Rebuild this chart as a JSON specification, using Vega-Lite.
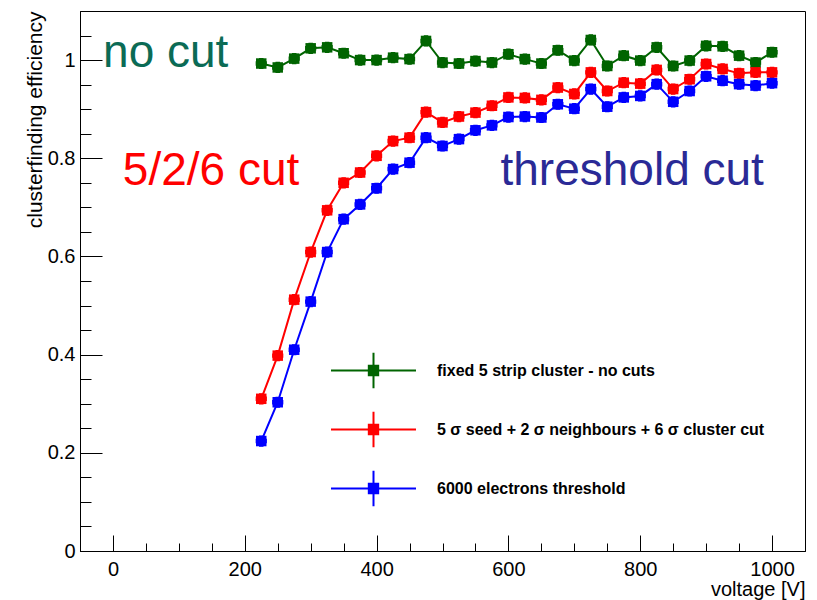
{
  "$schema": "https://vega.github.io/schema/vega-lite/v6.json",
  "width": 725,
  "height": 540,
  "autosize": "none",
  "padding": {"left": 80, "top": 11, "right": 12, "bottom": 49},
  "background": "white",
  "config": {
    "view": {"stroke": "black", "strokeWidth": 1},
    "font": "Liberation Sans",
    "axis": {"labelFont": "Liberation Sans", "titleFont": "Liberation Sans", "labelColor": "black", "titleColor": "black", "domainColor": "black", "tickColor": "black", "grid": false, "titleFontWeight": "normal"}
  },
  "datasets": {
    "eff": [
      {"voltage": 225, "series": "fixed 5 strip cluster - no cuts", "efficiency": 0.993},
      {"voltage": 250, "series": "fixed 5 strip cluster - no cuts", "efficiency": 0.985},
      {"voltage": 275, "series": "fixed 5 strip cluster - no cuts", "efficiency": 1.003},
      {"voltage": 300, "series": "fixed 5 strip cluster - no cuts", "efficiency": 1.024},
      {"voltage": 325, "series": "fixed 5 strip cluster - no cuts", "efficiency": 1.026},
      {"voltage": 350, "series": "fixed 5 strip cluster - no cuts", "efficiency": 1.014},
      {"voltage": 375, "series": "fixed 5 strip cluster - no cuts", "efficiency": 1.000},
      {"voltage": 400, "series": "fixed 5 strip cluster - no cuts", "efficiency": 1.000},
      {"voltage": 425, "series": "fixed 5 strip cluster - no cuts", "efficiency": 1.005},
      {"voltage": 450, "series": "fixed 5 strip cluster - no cuts", "efficiency": 1.002},
      {"voltage": 475, "series": "fixed 5 strip cluster - no cuts", "efficiency": 1.039},
      {"voltage": 500, "series": "fixed 5 strip cluster - no cuts", "efficiency": 0.995},
      {"voltage": 525, "series": "fixed 5 strip cluster - no cuts", "efficiency": 0.993},
      {"voltage": 550, "series": "fixed 5 strip cluster - no cuts", "efficiency": 0.998},
      {"voltage": 575, "series": "fixed 5 strip cluster - no cuts", "efficiency": 0.995},
      {"voltage": 600, "series": "fixed 5 strip cluster - no cuts", "efficiency": 1.012},
      {"voltage": 625, "series": "fixed 5 strip cluster - no cuts", "efficiency": 1.002},
      {"voltage": 650, "series": "fixed 5 strip cluster - no cuts", "efficiency": 0.993},
      {"voltage": 675, "series": "fixed 5 strip cluster - no cuts", "efficiency": 1.020},
      {"voltage": 700, "series": "fixed 5 strip cluster - no cuts", "efficiency": 0.999},
      {"voltage": 725, "series": "fixed 5 strip cluster - no cuts", "efficiency": 1.041},
      {"voltage": 750, "series": "fixed 5 strip cluster - no cuts", "efficiency": 0.988},
      {"voltage": 775, "series": "fixed 5 strip cluster - no cuts", "efficiency": 1.009},
      {"voltage": 800, "series": "fixed 5 strip cluster - no cuts", "efficiency": 0.999},
      {"voltage": 825, "series": "fixed 5 strip cluster - no cuts", "efficiency": 1.026},
      {"voltage": 850, "series": "fixed 5 strip cluster - no cuts", "efficiency": 0.988},
      {"voltage": 875, "series": "fixed 5 strip cluster - no cuts", "efficiency": 0.999},
      {"voltage": 900, "series": "fixed 5 strip cluster - no cuts", "efficiency": 1.029},
      {"voltage": 925, "series": "fixed 5 strip cluster - no cuts", "efficiency": 1.028},
      {"voltage": 950, "series": "fixed 5 strip cluster - no cuts", "efficiency": 1.009},
      {"voltage": 975, "series": "fixed 5 strip cluster - no cuts", "efficiency": 0.995},
      {"voltage": 1000, "series": "fixed 5 strip cluster - no cuts", "efficiency": 1.016},
      {"voltage": 225, "series": "5 σ seed + 2 σ neighbours + 6 σ cluster cut", "efficiency": 0.310},
      {"voltage": 250, "series": "5 σ seed + 2 σ neighbours + 6 σ cluster cut", "efficiency": 0.398},
      {"voltage": 275, "series": "5 σ seed + 2 σ neighbours + 6 σ cluster cut", "efficiency": 0.512},
      {"voltage": 300, "series": "5 σ seed + 2 σ neighbours + 6 σ cluster cut", "efficiency": 0.609},
      {"voltage": 325, "series": "5 σ seed + 2 σ neighbours + 6 σ cluster cut", "efficiency": 0.694},
      {"voltage": 350, "series": "5 σ seed + 2 σ neighbours + 6 σ cluster cut", "efficiency": 0.750},
      {"voltage": 375, "series": "5 σ seed + 2 σ neighbours + 6 σ cluster cut", "efficiency": 0.771},
      {"voltage": 400, "series": "5 σ seed + 2 σ neighbours + 6 σ cluster cut", "efficiency": 0.805},
      {"voltage": 425, "series": "5 σ seed + 2 σ neighbours + 6 σ cluster cut", "efficiency": 0.835},
      {"voltage": 450, "series": "5 σ seed + 2 σ neighbours + 6 σ cluster cut", "efficiency": 0.842},
      {"voltage": 475, "series": "5 σ seed + 2 σ neighbours + 6 σ cluster cut", "efficiency": 0.894},
      {"voltage": 500, "series": "5 σ seed + 2 σ neighbours + 6 σ cluster cut", "efficiency": 0.873},
      {"voltage": 525, "series": "5 σ seed + 2 σ neighbours + 6 σ cluster cut", "efficiency": 0.885},
      {"voltage": 550, "series": "5 σ seed + 2 σ neighbours + 6 σ cluster cut", "efficiency": 0.893},
      {"voltage": 575, "series": "5 σ seed + 2 σ neighbours + 6 σ cluster cut", "efficiency": 0.907},
      {"voltage": 600, "series": "5 σ seed + 2 σ neighbours + 6 σ cluster cut", "efficiency": 0.924},
      {"voltage": 625, "series": "5 σ seed + 2 σ neighbours + 6 σ cluster cut", "efficiency": 0.923},
      {"voltage": 650, "series": "5 σ seed + 2 σ neighbours + 6 σ cluster cut", "efficiency": 0.919},
      {"voltage": 675, "series": "5 σ seed + 2 σ neighbours + 6 σ cluster cut", "efficiency": 0.944},
      {"voltage": 700, "series": "5 σ seed + 2 σ neighbours + 6 σ cluster cut", "efficiency": 0.931},
      {"voltage": 725, "series": "5 σ seed + 2 σ neighbours + 6 σ cluster cut", "efficiency": 0.975},
      {"voltage": 750, "series": "5 σ seed + 2 σ neighbours + 6 σ cluster cut", "efficiency": 0.937},
      {"voltage": 775, "series": "5 σ seed + 2 σ neighbours + 6 σ cluster cut", "efficiency": 0.954},
      {"voltage": 800, "series": "5 σ seed + 2 σ neighbours + 6 σ cluster cut", "efficiency": 0.952},
      {"voltage": 825, "series": "5 σ seed + 2 σ neighbours + 6 σ cluster cut", "efficiency": 0.980},
      {"voltage": 850, "series": "5 σ seed + 2 σ neighbours + 6 σ cluster cut", "efficiency": 0.941},
      {"voltage": 875, "series": "5 σ seed + 2 σ neighbours + 6 σ cluster cut", "efficiency": 0.961},
      {"voltage": 900, "series": "5 σ seed + 2 σ neighbours + 6 σ cluster cut", "efficiency": 0.992},
      {"voltage": 925, "series": "5 σ seed + 2 σ neighbours + 6 σ cluster cut", "efficiency": 0.982},
      {"voltage": 950, "series": "5 σ seed + 2 σ neighbours + 6 σ cluster cut", "efficiency": 0.973},
      {"voltage": 975, "series": "5 σ seed + 2 σ neighbours + 6 σ cluster cut", "efficiency": 0.975},
      {"voltage": 1000, "series": "5 σ seed + 2 σ neighbours + 6 σ cluster cut", "efficiency": 0.975},
      {"voltage": 225, "series": "6000 electrons threshold", "efficiency": 0.224},
      {"voltage": 250, "series": "6000 electrons threshold", "efficiency": 0.303},
      {"voltage": 275, "series": "6000 electrons threshold", "efficiency": 0.410},
      {"voltage": 300, "series": "6000 electrons threshold", "efficiency": 0.508},
      {"voltage": 325, "series": "6000 electrons threshold", "efficiency": 0.609},
      {"voltage": 350, "series": "6000 electrons threshold", "efficiency": 0.676},
      {"voltage": 375, "series": "6000 electrons threshold", "efficiency": 0.706},
      {"voltage": 400, "series": "6000 electrons threshold", "efficiency": 0.739},
      {"voltage": 425, "series": "6000 electrons threshold", "efficiency": 0.778},
      {"voltage": 450, "series": "6000 electrons threshold", "efficiency": 0.791},
      {"voltage": 475, "series": "6000 electrons threshold", "efficiency": 0.842},
      {"voltage": 500, "series": "6000 electrons threshold", "efficiency": 0.825},
      {"voltage": 525, "series": "6000 electrons threshold", "efficiency": 0.839},
      {"voltage": 550, "series": "6000 electrons threshold", "efficiency": 0.857},
      {"voltage": 575, "series": "6000 electrons threshold", "efficiency": 0.867},
      {"voltage": 600, "series": "6000 electrons threshold", "efficiency": 0.884},
      {"voltage": 625, "series": "6000 electrons threshold", "efficiency": 0.885},
      {"voltage": 650, "series": "6000 electrons threshold", "efficiency": 0.883},
      {"voltage": 675, "series": "6000 electrons threshold", "efficiency": 0.910},
      {"voltage": 700, "series": "6000 electrons threshold", "efficiency": 0.901},
      {"voltage": 725, "series": "6000 electrons threshold", "efficiency": 0.941},
      {"voltage": 750, "series": "6000 electrons threshold", "efficiency": 0.905},
      {"voltage": 775, "series": "6000 electrons threshold", "efficiency": 0.924},
      {"voltage": 800, "series": "6000 electrons threshold", "efficiency": 0.927},
      {"voltage": 825, "series": "6000 electrons threshold", "efficiency": 0.951},
      {"voltage": 850, "series": "6000 electrons threshold", "efficiency": 0.915},
      {"voltage": 875, "series": "6000 electrons threshold", "efficiency": 0.937},
      {"voltage": 900, "series": "6000 electrons threshold", "efficiency": 0.967},
      {"voltage": 925, "series": "6000 electrons threshold", "efficiency": 0.958},
      {"voltage": 950, "series": "6000 electrons threshold", "efficiency": 0.951},
      {"voltage": 975, "series": "6000 electrons threshold", "efficiency": 0.948},
      {"voltage": 1000, "series": "6000 electrons threshold", "efficiency": 0.953}
    ]
  },
  "resolve": {"axis": {"x": "independent", "y": "independent"}},
  "layer": [
    {
      "data": {"name": "eff"},
      "mark": {"type": "line", "strokeWidth": 2},
      "encoding": {
        "x": {"field": "voltage", "type": "quantitative", "scale": {"domain": [-50, 1050], "nice": false, "zero": false},
              "axis": {"orient": "bottom", "values": [0, 200, 400, 600, 800, 1000], "format": "d", "tickSize": -16, "labelPadding": 24, "labelFontSize": 20, "title": "voltage [V]", "titleFontSize": 20, "titleAnchor": "end", "titlePadding": 0, "domain": true}},
        "y": {"field": "efficiency", "type": "quantitative", "scale": {"domain": [0, 1.1], "nice": false, "zero": false},
              "axis": {"orient": "left", "values": [0, 0.2, 0.4, 0.6, 0.8, 1], "format": "~g", "tickSize": -22, "labelPadding": 27, "labelFontSize": 20, "title": "clusterfinding efficiency", "titleFontSize": 21, "titleAnchor": "end", "titlePadding": 2, "domain": true}},
        "color": {"field": "series", "type": "nominal",
                  "scale": {"domain": ["fixed 5 strip cluster - no cuts", "5 σ seed + 2 σ neighbours + 6 σ cluster cut", "6000 electrons threshold"], "range": ["#006400", "#ff0000", "#0000ff"]},
                  "legend": {"orient": "none", "legendX": 257, "legendY": 323, "title": null, "padding": 0,
                             "symbolType": "M-1.197,0H1.197M0,-0.503V0.503M-0.132,-0.132H0.132V0.132H-0.132Z", "symbolSize": 5041, "symbolStrokeWidth": 2,
                             "labelFont": "Liberation Sans", "labelFontSize": 16, "labelFontWeight": "bold", "labelColor": "black", "labelOffset": 27, "labelLimit": 0, "rowPadding": 0,
                             "encode": {"symbols": {"update": {"stroke": {"scale": "color", "field": "value"}, "fill": {"scale": "color", "field": "value"}, "opacity": {"value": 1}}}}}}
      }
    },
    {
      "data": {"name": "eff"},
      "mark": {"type": "point", "shape": "cross", "filled": true, "size": 125, "opacity": 1},
      "encoding": {
        "x": {"field": "voltage", "type": "quantitative", "scale": {"domain": [-50, 1050], "nice": false, "zero": false},
              "axis": {"orient": "bottom", "values": [-50, 0, 50, 100, 150, 200, 250, 300, 350, 400, 450, 500, 550, 600, 650, 700, 750, 800, 850, 900, 950, 1000, 1050], "tickSize": -8, "labels": false, "domain": false, "title": null}},
        "y": {"field": "efficiency", "type": "quantitative", "scale": {"domain": [0, 1.1], "nice": false, "zero": false},
              "axis": {"orient": "left", "values": [0, 0.05, 0.1, 0.15, 0.2, 0.25, 0.3, 0.35, 0.4, 0.45, 0.5, 0.55, 0.6, 0.65, 0.7, 0.75, 0.8, 0.85, 0.9, 0.95, 1, 1.05, 1.1], "tickSize": -11, "labels": false, "domain": false, "title": null}},
        "color": {"field": "series", "type": "nominal", "legend": null}
      }
    },
    {
      "data": {"name": "eff"},
      "mark": {"type": "point", "shape": "square", "filled": true, "size": 110, "opacity": 1},
      "encoding": {
        "x": {"field": "voltage", "type": "quantitative", "axis": null},
        "y": {"field": "efficiency", "type": "quantitative", "axis": null},
        "color": {"field": "series", "type": "nominal", "legend": null}
      }
    },
    {
      "data": {"values": [{"label": "no cut", "voltage": -15, "efficiency": 0.986}]},
      "mark": {"type": "text", "align": "left", "baseline": "alphabetic", "fontSize": 46, "font": "Liberation Sans", "color": "#0b6b55"},
      "encoding": {
        "x": {"field": "voltage", "type": "quantitative", "axis": null},
        "y": {"field": "efficiency", "type": "quantitative", "axis": null},
        "text": {"field": "label"}
      }
    },
    {
      "data": {"values": [{"label": "5/2/6 cut", "voltage": 15, "efficiency": 0.7456}]},
      "mark": {"type": "text", "align": "left", "baseline": "alphabetic", "fontSize": 46, "font": "Liberation Sans", "color": "#ff0000"},
      "encoding": {
        "x": {"field": "voltage", "type": "quantitative", "axis": null},
        "y": {"field": "efficiency", "type": "quantitative", "axis": null},
        "text": {"field": "label"}
      }
    },
    {
      "data": {"values": [{"label": "threshold cut", "voltage": 588, "efficiency": 0.7456}]},
      "mark": {"type": "text", "align": "left", "baseline": "alphabetic", "fontSize": 46, "font": "Liberation Sans", "color": "#2a2a96"},
      "encoding": {
        "x": {"field": "voltage", "type": "quantitative", "axis": null},
        "y": {"field": "efficiency", "type": "quantitative", "axis": null},
        "text": {"field": "label"}
      }
    }
  ]
}
